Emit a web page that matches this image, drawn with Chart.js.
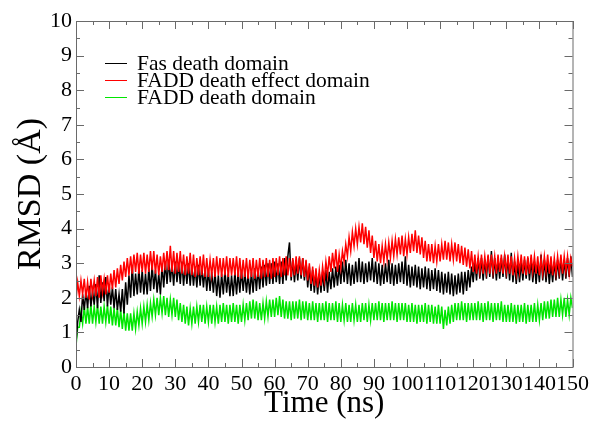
<!DOCTYPE html>
<html>
<head>
<title></title>
<script src="https://cdn.jsdelivr.net/npm/chart.js"></script>
<style>
  html, body { margin: 0; padding: 0; background: #fff; }
  .chart-container { width: 593px; height: 422px; }
</style>
</head>
<body>
<div class="chart-container"><canvas id="rmsdChart"></canvas></div>
<script>
// samples every 0.5 ns, 0 .. 150 ns
const timeStep = 0.5;
const xTickValues = [0, 10, 20, 30, 40, 50, 60, 70, 80, 90, 100, 110, 120, 130, 140, 150];
const yTickValues = [0, 1, 2, 3, 4, 5, 6, 7, 8, 9, 10];
const seriesNames = ['Fas death domain', 'FADD death effect domain', 'FADD death domain'];

const fasDD = [
  0.7,1.3,1.65,1.3,2.1,1.65,2.2,1.7,2.35,1.75,2.2,1.8,2.4,1.7,2.65,1.85,2.45,1.9,2.6,1.75,
  2.4,1.8,2.3,1.7,2.25,1.65,2.1,1.6,2.25,1.55,2.45,1.8,2.65,2.0,2.95,2.05,2.7,2.1,2.85,2.15,
  2.8,2.1,2.7,2.1,2.85,2.2,2.95,2.25,2.8,2.15,2.7,2.1,2.95,2.3,3.05,2.4,3.1,2.45,3.0,2.35,
  3.05,2.45,3.0,2.4,3.05,2.35,2.95,2.4,3.0,2.35,2.95,2.35,2.9,2.3,2.95,2.35,2.9,2.3,2.85,2.2,
  2.8,2.2,2.75,2.15,2.75,2.05,2.65,2.0,2.7,2.1,2.8,2.15,2.7,2.05,2.65,2.05,2.75,2.1,2.75,2.15,
  2.8,2.2,2.75,2.15,2.7,2.1,2.75,2.15,2.85,2.2,2.85,2.25,2.9,2.3,2.95,2.35,3.0,2.4,3.0,2.4,
  3.05,2.45,3.0,2.4,3.05,2.4,3.15,2.5,3.2,3.6,2.5,3.1,2.45,3.05,2.5,3.15,2.55,3.15,2.5,3.05,
  2.3,2.9,2.2,2.8,2.15,2.75,2.1,2.7,2.15,2.75,2.2,2.8,2.15,2.75,2.25,2.85,2.3,2.9,2.35,2.95,
  2.4,3.05,2.45,3.1,2.4,3.0,2.35,2.95,2.4,3.05,2.45,3.15,2.45,3.05,2.4,3.0,2.45,3.05,2.5,3.15,
  2.45,3.05,2.4,3.0,2.35,2.95,2.4,3.0,2.45,3.1,2.4,3.0,2.35,2.95,2.4,3.0,2.45,3.05,2.4,3.2,
  2.35,2.95,2.3,2.9,2.35,2.95,2.3,2.9,2.25,2.85,2.3,2.9,2.25,2.85,2.2,2.8,2.25,2.85,2.2,2.8,
  2.15,2.75,2.1,2.7,2.15,2.75,2.1,2.7,2.05,2.65,2.1,2.7,2.15,2.75,2.1,2.75,2.2,2.8,2.3,2.9,
  2.45,3.05,2.5,3.15,2.55,3.15,2.5,3.1,2.55,3.2,2.6,3.35,2.55,3.15,2.5,3.1,2.55,3.15,2.6,3.25,
  2.55,3.15,2.5,3.3,2.45,3.05,2.4,3.0,2.45,3.05,2.5,3.1,2.55,3.15,2.5,3.1,2.45,3.05,2.4,3.0,
  2.45,3.25,2.5,3.1,2.45,3.05,2.4,3.0,2.45,3.05,2.5,3.1,2.55,3.15,2.5,3.1,2.55,3.15,2.6,3.2,
  2.6
];

const faddDED = [
  1.95,2.45,2.05,2.5,2.1,2.55,2.0,2.45,1.95,2.55,2.1,2.5,2.05,2.6,2.0,2.65,2.15,2.55,2.1,2.65,
  2.15,2.7,2.25,2.8,2.3,2.85,2.4,2.95,2.5,3.05,2.6,3.15,2.65,3.2,2.7,3.25,2.75,3.3,2.7,3.25,
  2.75,3.3,2.7,3.25,2.75,3.35,2.8,3.35,2.7,3.25,2.65,3.2,2.75,3.3,2.8,3.35,2.8,3.5,2.75,3.35,
  2.7,3.3,2.75,3.35,2.7,3.25,2.65,3.2,2.7,3.3,2.65,3.25,2.6,3.15,2.65,3.2,2.65,3.25,2.6,3.15,
  2.6,3.1,2.65,3.15,2.6,3.2,2.65,3.15,2.6,3.15,2.65,3.2,2.6,3.15,2.65,3.15,2.65,3.2,2.6,3.15,
  2.55,3.1,2.6,3.15,2.55,3.1,2.6,3.15,2.55,3.1,2.6,3.15,2.55,3.1,2.6,3.15,2.6,3.1,2.55,3.15,
  2.6,3.15,2.65,3.2,2.6,3.15,2.65,3.2,2.65,3.15,2.6,3.15,2.65,3.2,2.7,3.2,2.65,3.15,2.6,3.1,
  2.5,3.0,2.4,2.9,2.35,2.85,2.3,2.8,2.35,2.9,2.5,3.05,2.65,3.2,2.75,3.3,2.85,3.4,2.75,3.25,
  2.85,3.35,3.05,3.55,3.2,3.75,3.35,3.9,3.5,4.0,3.55,4.05,3.6,4.15,3.55,4.05,3.45,3.95,3.3,3.8,
  3.15,3.65,3.05,3.55,3.0,3.5,3.05,3.55,3.1,3.6,3.15,3.65,3.2,3.7,3.25,3.75,3.25,3.8,3.2,3.7,
  3.25,3.75,3.3,3.85,3.35,3.95,3.3,3.8,3.25,3.75,3.15,3.65,3.05,3.55,3.05,3.55,3.0,3.5,3.05,3.55,
  3.05,3.55,3.1,3.65,3.1,3.6,3.05,3.55,3.1,3.6,3.05,3.55,3.0,3.5,2.95,3.45,2.9,3.4,2.85,3.35,
  2.75,3.25,2.7,3.2,2.75,3.25,2.7,3.2,2.75,3.25,2.7,3.25,2.75,3.2,2.7,3.25,2.75,3.25,2.7,3.2,
  2.75,3.25,2.7,3.2,2.65,3.15,2.7,3.2,2.75,3.25,2.7,3.2,2.65,3.2,2.7,3.25,2.75,3.2,2.7,3.2,
  2.65,3.15,2.7,3.2,2.75,3.25,2.7,3.2,2.65,3.15,2.7,3.2,2.75,3.25,2.7,3.2,2.75,3.2,2.7,3.15,
  2.9
];

const faddDD = [
  0.6,1.15,1.15,1.6,1.25,1.75,1.25,1.75,1.25,1.8,1.25,1.75,1.3,1.8,1.25,1.75,1.25,1.75,1.3,1.8,
  1.25,1.75,1.2,1.7,1.2,1.7,1.15,1.65,1.1,1.6,1.05,1.55,1.05,1.55,1.05,1.55,1.1,1.6,1.2,1.7,
  1.25,1.75,1.3,1.8,1.35,1.85,1.45,1.95,1.5,2.0,1.5,2.0,1.55,2.05,1.5,2.0,1.45,1.95,1.5,2.0,
  1.45,1.95,1.35,1.85,1.3,1.8,1.25,1.75,1.2,1.7,1.25,1.75,1.25,1.75,1.3,1.8,1.3,1.8,1.25,1.75,
  1.3,1.8,1.25,1.8,1.3,1.75,1.25,1.8,1.3,1.85,1.3,1.8,1.25,1.8,1.3,1.85,1.3,1.8,1.25,1.8,
  1.3,1.8,1.35,1.85,1.35,1.9,1.4,1.95,1.4,1.9,1.35,1.85,1.35,1.85,1.4,1.9,1.45,1.95,1.45,1.95,
  1.45,2.0,1.5,2.05,1.45,1.95,1.4,1.9,1.4,1.9,1.35,1.9,1.4,1.9,1.4,1.95,1.35,1.9,1.4,1.9,
  1.35,1.85,1.35,1.9,1.35,1.85,1.3,1.85,1.35,1.85,1.35,1.9,1.3,1.85,1.35,1.85,1.35,1.9,1.3,1.85,
  1.3,1.8,1.35,1.85,1.3,1.8,1.3,1.85,1.35,1.8,1.3,1.8,1.3,1.85,1.35,1.85,1.3,1.8,1.35,1.85,
  1.35,1.85,1.35,1.9,1.35,1.85,1.3,1.85,1.35,1.85,1.35,1.9,1.35,1.85,1.3,1.85,1.35,1.85,1.35,1.85,
  1.3,1.8,1.3,1.85,1.3,1.8,1.25,1.8,1.3,1.8,1.3,1.85,1.25,1.8,1.3,1.8,1.25,1.75,1.25,1.8,
  1.25,1.75,1.1,1.65,1.2,1.75,1.25,1.8,1.3,1.85,1.35,1.85,1.35,1.9,1.35,1.85,1.3,1.85,1.35,1.85,
  1.35,1.85,1.35,1.9,1.35,1.85,1.3,1.85,1.35,1.9,1.35,1.85,1.3,1.85,1.35,1.85,1.35,1.9,1.3,1.8,
  1.3,1.8,1.3,1.85,1.3,1.8,1.25,1.8,1.3,1.8,1.3,1.85,1.25,1.8,1.3,1.8,1.3,1.85,1.3,1.8,
  1.35,1.85,1.35,1.9,1.4,1.9,1.4,1.95,1.45,1.95,1.45,2.0,1.45,1.95,1.5,2.0,1.45,1.95,1.5,2.0,
  1.7
];

const seriesColors = ['#000000', '#ff0000', '#00e600'];

function toPoints(values) {
  return values.map((v, i) => ({ x: i * timeStep, y: v }));
}

const serif = "'Liberation Serif', 'DejaVu Serif', serif";

// inward ticks on all four sides + frame, like the original plot
const frameTicks = {
  id: 'frameTicks',
  afterDraw(chart) {
    const { ctx, chartArea: a, scales: { x, y } } = chart;
    ctx.save();
    ctx.strokeStyle = '#6a6a6a';
    ctx.lineWidth = 1;
    ctx.strokeRect(a.left + 0.5, a.top + 0.5, a.right - a.left, a.bottom - a.top);
    ctx.beginPath();
    for (let t = 0; t <= 150; t += 5) {
      const px = Math.round(x.getPixelForValue(t)) + 0.5;
      const len = t % 10 === 0 ? 8 : 4;
      ctx.moveTo(px, a.bottom); ctx.lineTo(px, a.bottom - len);
      ctx.moveTo(px, a.top); ctx.lineTo(px, a.top + len);
    }
    for (let v = 0; v <= 10; v += 0.5) {
      const py = Math.round(y.getPixelForValue(v)) + 0.5;
      const len = v % 1 === 0 ? 8 : 4;
      ctx.moveTo(a.left, py); ctx.lineTo(a.left + len, py);
      ctx.moveTo(a.right, py); ctx.lineTo(a.right - len, py);
    }
    ctx.stroke();
    ctx.restore();
  }
};

const insideLegend = {
  id: 'insideLegend',
  afterDraw(chart) {
    const { ctx } = chart;
    ctx.save();
    ctx.font = '21.5px ' + serif;
    ctx.textBaseline = 'middle';
    ctx.fillStyle = '#000';
    chart.data.datasets.forEach((ds, i) => {
      const yy = 63 + i * 17;
      ctx.strokeStyle = ds.borderColor;
      ctx.lineWidth = 1;
      ctx.beginPath();
      ctx.moveTo(105, yy + 0.5);
      ctx.lineTo(127, yy + 0.5);
      ctx.stroke();
      ctx.fillText(ds.label, 137, yy + 1);
    });
    ctx.restore();
  }
};

new Chart(document.getElementById('rmsdChart'), {
  type: 'line',
  data: {
    datasets: [
      { label: seriesNames[0], data: toPoints(fasDD), borderColor: seriesColors[0], order: 1 },
      { label: seriesNames[1], data: toPoints(faddDED), borderColor: seriesColors[1], order: 0 },
      { label: seriesNames[2], data: toPoints(faddDD), borderColor: seriesColors[2], order: 2 }
    ]
  },
  options: {
    responsive: true,
    maintainAspectRatio: false,
    animation: false,
    datasets: {
      line: { borderWidth: 1.5, pointRadius: 0, tension: 0, fill: false }
    },
    layout: { padding: { top: 21, right: 17, left: 0, bottom: 0 } },
    plugins: {
      legend: { display: false },
      tooltip: { enabled: false }
    },
    scales: {
      x: {
        type: 'linear',
        min: 0,
        max: 150,
        afterBuildTicks: (scale) => { scale.ticks = xTickValues.map(v => ({ value: v })); },
        ticks: {
          autoSkip: false,
          maxRotation: 0,
          padding: 4,
          color: '#000',
          font: { family: serif, size: 22 }
        },
        grid: { display: false, drawTicks: false },
        border: { display: false },
        title: {
          display: true,
          text: 'Time (ns)',
          color: '#000',
          font: { family: serif, size: 31, lineHeight: 1 },
          padding: { top: 0, bottom: 3 }
        },
        afterFit: (scale) => { scale.height = 55; }
      },
      y: {
        type: 'linear',
        min: 0,
        max: 10,
        afterBuildTicks: (scale) => { scale.ticks = yTickValues.map(v => ({ value: v })); },
        ticks: {
          padding: 4,
          color: '#000',
          font: { family: serif, size: 22 }
        },
        grid: { display: false, drawTicks: false },
        border: { display: false },
        title: {
          display: true,
          text: 'RMSD (Å)',
          color: '#000',
          font: { family: serif, size: 34, lineHeight: 1 },
          padding: { top: 14, bottom: 0 }
        },
        afterFit: (scale) => { scale.width = 76; }
      }
    }
  },
  plugins: [frameTicks, insideLegend]
});
</script>
</body>
</html>
